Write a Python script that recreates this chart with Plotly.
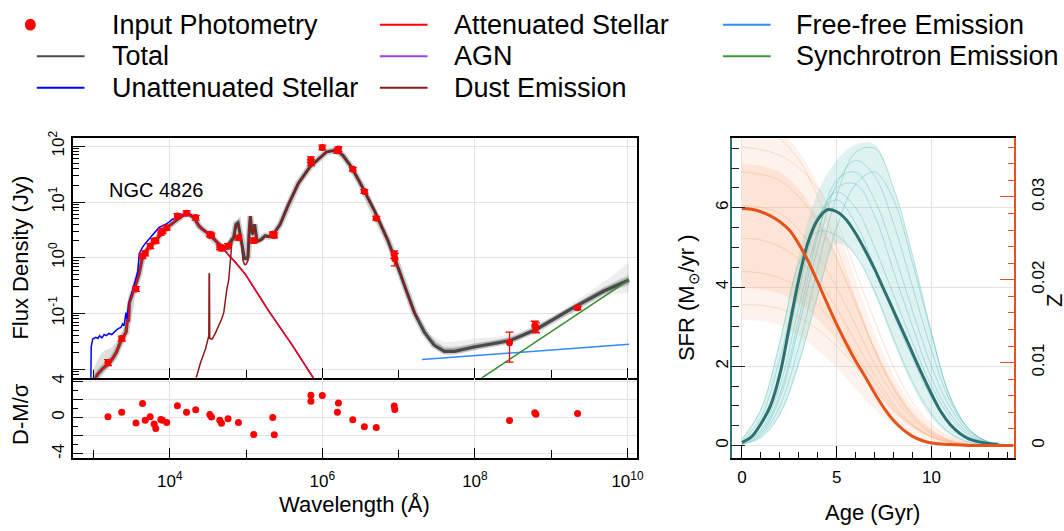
import numpy as np
import plotly.graph_objects as go

FONT = "Liberation Sans"
W, H = 1064, 531

# ---------------- SED model (log10 wavelength [A], log10 flux [Jy]) ----------------
total_lw = [3.00, 3.05, 3.12, 3.20, 3.25, 3.30, 3.36, 3.40, 3.427, 3.447, 3.46, 3.47, 3.50, 3.535,
            3.57, 3.60, 3.643, 3.708, 3.76, 3.817, 3.88, 3.948, 4.00, 4.078, 4.15, 4.23, 4.317,
            4.382, 4.425, 4.512, 4.60, 4.686, 4.75, 4.773, 4.80, 4.838, 4.868, 4.895, 4.92, 4.938,
            4.98, 5.00, 5.025, 5.04, 5.056, 5.07, 5.086, 5.112, 5.142, 5.17, 5.207, 5.25, 5.30,
            5.36, 5.447, 5.555, 5.686, 5.838, 5.97, 6.055, 6.13, 6.207, 6.27, 6.38, 6.51, 6.686,
            6.86, 6.95, 7.01, 7.077, 7.207, 7.338, 7.468, 7.598, 7.729, 7.99, 8.25, 8.467, 8.815,
            9.25, 9.684, 10.02]
total_lf = [-2.25, -2.10, -1.99, -1.90, -1.81, -1.70, -1.49, -1.40, -1.34, -1.10, -1.15, -0.81,
            -0.70, -0.575, -0.42, -0.28, 0.014, 0.16, 0.24, 0.307, 0.42, 0.513, 0.58, 0.67, 0.74,
            0.80, 0.72, 0.571, 0.513, 0.425, 0.307, 0.19, 0.17, 0.24, 0.30, 0.367, 0.60, 0.63,
            0.45, 0.337, -0.016, -0.02, 0.014, 0.45, 0.748, 0.55, 0.425, 0.60, 0.307, 0.31, 0.337,
            0.395, 0.38, 0.425, 0.60, 0.954, 1.337, 1.63, 1.80, 1.90, 1.92, 1.91, 1.836, 1.63,
            1.307, 0.836, 0.307, 0.0, -0.24, -0.50, -0.986, -1.339, -1.574, -1.68, -1.68, -1.603,
            -1.545, -1.485, -1.28, -0.928, -0.603, -0.40]

att_lw = [3.00, 3.05, 3.12, 3.20, 3.25, 3.30, 3.36, 3.40, 3.427, 3.447, 3.46, 3.47, 3.50, 3.535,
          3.57, 3.60, 3.643, 3.708, 3.76, 3.817, 3.88, 3.948, 4.00, 4.078, 4.15, 4.23, 4.317,
          4.382, 4.425, 4.512, 4.60, 4.686, 4.773, 4.85, 4.991, 5.295, 5.60, 5.90]
att_lf = [-2.25, -2.10, -1.99, -1.90, -1.81, -1.70, -1.49, -1.40, -1.34, -1.10, -1.15, -0.81,
          -0.70, -0.575, -0.42, -0.28, 0.014, 0.16, 0.24, 0.307, 0.42, 0.513, 0.58, 0.67, 0.74,
          0.80, 0.72, 0.571, 0.513, 0.425, 0.307, 0.19, 0.042, -0.07, -0.30, -0.956, -1.56, -2.20]

unatt_lw = [2.965, 2.97, 2.99, 3.03, 3.06, 3.08, 3.11, 3.14, 3.17, 3.20, 3.24, 3.27, 3.30, 3.33,
            3.36, 3.382, 3.40, 3.426, 3.44, 3.46, 3.492, 3.52, 3.557, 3.58, 3.60, 3.64, 3.687,
            3.73, 3.773, 3.82, 3.86, 3.90, 3.948, 4.00, 4.034, 4.09, 4.143, 4.19, 4.23, 4.317,
            4.382, 4.425, 4.512, 4.60, 4.686, 4.773, 4.85, 4.991, 5.295, 5.60, 5.90]
unatt_lf = [-2.30, -1.60, -1.46, -1.43, -1.45, -1.40, -1.44, -1.38, -1.40, -1.36, -1.38, -1.33,
            -1.30, -1.27, -1.25, -1.19, -1.22, -0.986, -1.10, -0.85, -0.69, -0.50, -0.34, -0.25,
            0.072, 0.18, 0.27, 0.34, 0.42, 0.48, 0.543, 0.57, 0.60, 0.65, 0.69, 0.72, 0.748, 0.79,
            0.81, 0.73, 0.58, 0.52, 0.43, 0.31, 0.195, 0.045, -0.065, -0.295, -0.95, -1.555, -2.195]

dust_lw = [4.317, 4.40, 4.469, 4.505, 4.512, 4.516, 4.52, 4.524, 4.555, 4.60, 4.643, 4.68, 4.708,
           4.73, 4.75, 4.773, 4.795, 4.816, 4.838, 4.868, 4.895, 4.92, 4.938, 4.96, 4.98, 5.00,
           5.025, 5.04, 5.056, 5.07, 5.086, 5.112, 5.142, 5.17, 5.207, 5.25, 5.30, 5.36, 5.447,
           5.555, 5.686, 5.838, 5.97, 6.055, 6.13, 6.207, 6.27, 6.38, 6.51, 6.686, 6.86, 6.95,
           7.01, 7.077, 7.207, 7.25]
dust_lf = [-2.30, -1.90, -1.633, -1.45, -1.40, -0.28, -0.30, -1.45, -1.46, -1.35, -1.22, -1.10,
           -0.986, -0.69, -0.55, -0.40, -0.10, 0.30, 0.33, 0.58, 0.62, 0.42, 0.30, -0.05, -0.12,
           -0.12, -0.05, 0.40, 0.74, 0.52, 0.40, 0.59, 0.28, 0.29, 0.32, 0.385, 0.37, 0.42, 0.60,
           0.954, 1.337, 1.63, 1.80, 1.90, 1.92, 1.91, 1.836, 1.63, 1.307, 0.836, 0.307, 0.0,
           -0.24, -0.50, -0.99, -1.11]

ff_lw = [7.307, 10.02]
ff_lf = [-1.827, -1.556]
sync_lw = [8.0, 10.02]
sync_lf = [-2.24, -0.40]

# model-sample spread (grey band), UV and radio parts
uvband_lw = [2.98, 3.00, 3.05, 3.10, 3.15, 3.20, 3.25, 3.30, 3.36, 3.42, 3.47, 3.52, 3.60]
uvband_lo = [-2.40, -2.35, -2.25, -2.15, -2.05, -1.98, -1.92, -1.82, -1.60, -1.45, -0.95, -0.70, -0.33]
uvband_hi = [-2.20, -2.00, -1.85, -1.72, -1.66, -1.64, -1.60, -1.52, -1.36, -1.22, -0.72, -0.52, -0.22]
rband_lw = [7.2, 7.4, 7.6, 7.8, 8.0, 8.3, 8.6, 9.0, 9.3, 9.6, 9.8, 10.02]
rband_out_hi = [-0.92, -1.38, -1.52, -1.50, -1.45, -1.42, -1.34, -1.07, -0.80, -0.52, -0.33, -0.08]
rband_out_lo = [-1.00, -1.52, -1.74, -1.72, -1.66, -1.58, -1.46, -1.18, -0.96, -0.76, -0.66, -0.62]
rband_in_hi = [-0.94, -1.42, -1.60, -1.59, -1.54, -1.48, -1.38, -1.10, -0.85, -0.60, -0.45, -0.30]
rband_in_lo = [-0.98, -1.49, -1.71, -1.70, -1.63, -1.56, -1.44, -1.16, -0.93, -0.71, -0.59, -0.50]

# ---------------- photometry ----------------
phot_lw = [3.19, 3.37, 3.557, 3.643, 3.678, 3.743, 3.795, 3.817, 3.883, 3.904, 3.96, 4.10, 4.22,
           4.34, 4.525, 4.547, 4.656, 4.678, 4.764, 4.90, 5.10, 5.35, 5.37, 5.85, 5.85, 6.0,
           6.211, 6.198, 6.399, 6.551, 6.707, 6.942, 6.95, 8.454, 8.785, 8.80, 9.346]
phot_lf = [-1.88, -1.45, -0.56, 0.03, 0.08, 0.21, 0.30, 0.31, 0.45, 0.48, 0.54, 0.75, 0.80,
           0.72, 0.42, 0.40, 0.19, 0.17, 0.21, 0.36, 0.31, 0.42, 0.40, 1.76, 1.71, 1.98,
           1.95, 1.92, 1.59, 1.19, 0.71, 0.06, -0.02, -1.527, -1.22, -1.25, -0.90]
phot_err_pct = [12, 10, 10, 10, 10, 10, 10, 10, 10, 10, 10, 10, 10,
                10, 10, 10, 10, 10, 10, 10, 10, 10, 10, 12, 12, 10,
                10, 10, 8, 8, 8, 15, 25, 55, 20, 20, 7]
resid = [0.1, 0.6, -0.6, 1.56, -0.3, 0.1, -0.7, -1.2, -0.2, -0.3, -0.55, 1.3, 0.6,
         0.87, 0.35, 0.07, -0.3, -0.63, -0.14, -0.55, -1.85, 0.0, -1.9, 2.47, 1.8, 2.43,
         1.6, 0.6, -0.24, -1.0, -1.08, 1.29, 0.9, -0.31, 0.52, 0.38, 0.45]

# ---------------- star-formation history ----------------
age_main = [0, 0.5, 1.0, 1.5, 2.0, 2.5, 3.0, 3.5, 4.0, 4.5, 5.0, 5.5, 6.0, 6.5, 7.0, 7.5, 8.0,
            8.5, 9.0, 9.5, 10.0, 10.5, 11.0, 11.5, 12.0, 12.5, 13.0, 13.5]
sfr_main = [0.08, 0.22, 0.55, 1.0, 1.8, 3.0, 4.2, 5.15, 5.7, 5.95, 5.9, 5.7, 5.35, 4.92, 4.45,
            3.92, 3.4, 2.87, 2.33, 1.8, 1.3, 0.85, 0.52, 0.3, 0.16, 0.09, 0.05, 0.03]
zage_main = [0, 0.5, 1.0, 1.5, 2.0, 2.5, 3.0, 3.5, 4.0, 4.5, 5.0, 5.5, 6.0, 6.5, 7.0, 7.5, 8.0,
             8.5, 9.0, 9.5, 10.0, 11.0, 12.0, 13.0, 14.33]
z_main = [0.0286, 0.0285, 0.0282, 0.0277, 0.0270, 0.0260, 0.0243, 0.0222, 0.0197, 0.0171,
          0.0146, 0.0123, 0.0102, 0.0083, 0.0063, 0.0045, 0.0030, 0.0019, 0.0011, 0.0006,
          0.0003, 0.0001, 0.0, 0.0, 0.0]

age_s = list(range(15))
sfr_hi = [0.18, 0.95, 2.7, 4.8, 6.4, 7.2, 7.6, 7.6, 6.5, 4.8, 2.85, 1.25, 0.4, 0.08, 0.01]
sfr_lo = [0.02, 0.2, 0.75, 2.0, 3.8, 5.1, 4.8, 3.8, 2.6, 1.5, 0.7, 0.25, 0.06, 0.01, 0.0]
sfr_samples = [
    [0.15, 0.9, 2.6, 4.6, 5.4, 5.3, 4.8, 3.9, 2.7, 1.6, 0.8, 0.3, 0.08, 0.02, 0.0],
    [0.08, 0.5, 1.8, 3.9, 5.7, 6.4, 6.0, 5.0, 3.8, 2.6, 1.5, 0.7, 0.25, 0.07, 0.02],
    [0.05, 0.35, 1.3, 3.2, 5.3, 6.7, 6.9, 6.2, 4.9, 3.4, 2.0, 0.95, 0.35, 0.1, 0.02],
    [0.03, 0.25, 1.0, 2.5, 4.5, 6.3, 7.4, 7.5, 6.5, 4.8, 2.85, 1.2, 0.4, 0.08, 0.01],
    [0.03, 0.2, 0.8, 2.1, 3.8, 5.5, 6.6, 6.9, 6.2, 4.6, 2.8, 1.2, 0.4, 0.08, 0.01],
    [0.1, 0.7, 2.2, 4.2, 5.8, 6.2, 5.6, 4.5, 3.3, 2.2, 1.2, 0.55, 0.2, 0.05, 0.01],
    [0.06, 0.4, 1.5, 3.5, 5.4, 6.5, 6.6, 5.8, 4.4, 3.0, 1.7, 0.8, 0.3, 0.07, 0.01],
    [0.04, 0.3, 1.2, 3.0, 5.0, 6.6, 7.2, 6.8, 5.6, 4.0, 2.4, 1.1, 0.4, 0.09, 0.01],
]
z_out_hi = [0.040, 0.0395, 0.038, 0.0355, 0.0315, 0.0265, 0.020, 0.0135, 0.0085, 0.0048, 0.0024, 0.001, 0.0003, 0.0001, 0.0]
z_out_lo = [0.0152, 0.0150, 0.0145, 0.0133, 0.0115, 0.0094, 0.0068, 0.0044, 0.0025, 0.0011, 0.0004, 0.0001, 0.0, 0.0, 0.0]
z_in_hi = [0.034, 0.0337, 0.033, 0.031, 0.0275, 0.023, 0.0175, 0.012, 0.0075, 0.0041, 0.002, 0.0008, 0.0002, 0.0, 0.0]
z_in_lo = [0.019, 0.0188, 0.0183, 0.0172, 0.0152, 0.0127, 0.0096, 0.0066, 0.0040, 0.0021, 0.0009, 0.0003, 0.0001, 0.0, 0.0]
z_samples = [
    [0.036, 0.0357, 0.035, 0.0335, 0.031, 0.027, 0.021, 0.015, 0.0095, 0.0052, 0.0025, 0.001, 0.0003, 0.0001, 0.0],
    [0.033, 0.0327, 0.032, 0.030, 0.027, 0.0225, 0.017, 0.0115, 0.007, 0.0037, 0.0017, 0.0006, 0.0002, 0.0, 0.0],
    [0.025, 0.0248, 0.024, 0.0225, 0.020, 0.0165, 0.0125, 0.0085, 0.005, 0.0026, 0.0011, 0.0004, 0.0001, 0.0, 0.0],
    [0.021, 0.0208, 0.0202, 0.019, 0.017, 0.0142, 0.011, 0.0076, 0.0046, 0.0024, 0.001, 0.0003, 0.0001, 0.0, 0.0],
    [0.017, 0.0169, 0.0165, 0.0155, 0.014, 0.012, 0.0095, 0.0068, 0.0043, 0.0024, 0.0011, 0.0004, 0.0001, 0.0, 0.0],
    [0.039, 0.0385, 0.037, 0.0345, 0.030, 0.024, 0.0175, 0.0115, 0.0068, 0.0035, 0.0015, 0.0005, 0.0001, 0.0, 0.0],
    [0.029, 0.0287, 0.028, 0.026, 0.023, 0.019, 0.0145, 0.0098, 0.006, 0.0032, 0.0014, 0.0005, 0.0001, 0.0, 0.0],
]

# legend entries: (label, kind, colour)
legend_col1 = [("Input Photometry", "dot", "#ff0000"), ("Total", "line", "#4a4a4a"),
               ("Unattenuated Stellar", "line", "#0000ff")]
legend_col2 = [("Attenuated Stellar", "line", "#ff0000"), ("AGN", "line", "#a040e8"),
               ("Dust Emission", "line", "#8b1a1a")]
legend_col3 = [("Free-free Emission", "line", "#2f8cff"), ("Synchrotron Emission", "line", "#3a9a3a")]

# ---------------- colours ----------------
C_TOTAL = "#4a4a4a"
C_UNATT = "#0000ff"
C_ATT = "#ff0000"
C_DUST = "#8b1a1a"
C_FF = "#2f8cff"
C_SYNC = "#2e8b2e"
C_TEAL = "#2c7070"
C_ORANGE = "#e5531a"
GRID = "#e3e3e3"


def p(v):
    return 10 ** np.asarray(v, dtype=float)


def px(v):
    return v / W


def py(v):
    return 1 - v / H


fig = go.Figure()


def band(lw, lo, hi, color):
    fig.add_trace(go.Scatter(x=p(lw), y=p(hi), mode="lines", line=dict(width=0, color=color),
                             showlegend=False, hoverinfo="skip", xaxis="x", yaxis="y"))
    fig.add_trace(go.Scatter(x=p(lw), y=p(lo), mode="lines", line=dict(width=0, color=color),
                             fill="tonexty", fillcolor=color, showlegend=False, hoverinfo="skip",
                             xaxis="x", yaxis="y"))


band(uvband_lw, uvband_lo, uvband_hi, "rgba(150,150,150,0.30)")
band(rband_lw, rband_out_lo, rband_out_hi, "rgba(170,170,170,0.20)")
band(rband_lw, rband_in_lo, rband_in_hi, "rgba(140,140,140,0.28)")

fig.add_trace(go.Scatter(x=p(total_lw), y=p(total_lf), mode="lines",
                         line=dict(color="rgba(110,110,110,0.32)", width=6.5),
                         showlegend=False, hoverinfo="skip", xaxis="x", yaxis="y"))
fig.add_trace(go.Scatter(x=p(total_lw), y=p(total_lf), mode="lines",
                         line=dict(color=C_TOTAL, width=3.2), showlegend=False, xaxis="x", yaxis="y"))
fig.add_trace(go.Scatter(x=p(unatt_lw), y=p(unatt_lf), mode="lines",
                         line=dict(color=C_UNATT, width=1.5), showlegend=False, xaxis="x", yaxis="y"))
fig.add_trace(go.Scatter(x=p(att_lw), y=p(att_lf), mode="lines",
                         line=dict(color=C_ATT, width=1.5), showlegend=False, xaxis="x", yaxis="y"))
fig.add_trace(go.Scatter(x=p(dust_lw), y=p(dust_lf), mode="lines",
                         line=dict(color=C_DUST, width=1.5), showlegend=False, xaxis="x", yaxis="y"))
fig.add_trace(go.Scatter(x=p(ff_lw), y=p(ff_lf), mode="lines",
                         line=dict(color=C_FF, width=1.5), showlegend=False, xaxis="x", yaxis="y"))
fig.add_trace(go.Scatter(x=p(sync_lw), y=p(sync_lf), mode="lines",
                         line=dict(color=C_SYNC, width=1.5), showlegend=False, xaxis="x", yaxis="y"))

pf = p(phot_lf)
perr = pf * np.asarray(phot_err_pct) / 100.0
fig.add_trace(go.Scatter(x=p(phot_lw), y=pf, mode="markers", marker=dict(color="#ff0000", size=7),
                         error_y=dict(type="data", array=perr, color="#ff0000", thickness=1.3, width=4),
                         showlegend=False, xaxis="x", yaxis="y"))
fig.add_trace(go.Scatter(x=p(phot_lw), y=resid, mode="markers", marker=dict(color="#ff0000", size=7),
                         showlegend=False, xaxis="x2", yaxis="y2"))

# ---- SFH panel ----
for hi, lo, col in [(z_out_hi, z_out_lo, "rgba(250,195,160,0.20)"),
                    (z_in_hi, z_in_lo, "rgba(248,178,135,0.22)")]:
    fig.add_trace(go.Scatter(x=age_s, y=hi, mode="lines", line=dict(width=0, shape="spline"),
                             showlegend=False, hoverinfo="skip", xaxis="x3", yaxis="y3"))
    fig.add_trace(go.Scatter(x=age_s, y=lo, mode="lines", line=dict(width=0, shape="spline"),
                             fill="tonexty", fillcolor=col, showlegend=False, hoverinfo="skip",
                             xaxis="x3", yaxis="y3"))
for s in z_samples:
    fig.add_trace(go.Scatter(x=age_s, y=s, mode="lines",
                             line=dict(color="rgba(245,165,120,0.35)", width=1, shape="spline"),
                             showlegend=False, hoverinfo="skip", xaxis="x3", yaxis="y3"))

fig.add_trace(go.Scatter(x=age_s, y=sfr_hi, mode="lines", line=dict(width=0, shape="spline"),
                         showlegend=False, hoverinfo="skip", xaxis="x3", yaxis="y4"))
fig.add_trace(go.Scatter(x=age_s, y=sfr_lo, mode="lines", line=dict(width=0, shape="spline"),
                         fill="tonexty", fillcolor="rgba(130,205,205,0.26)", showlegend=False,
                         hoverinfo="skip", xaxis="x3", yaxis="y4"))
for s in sfr_samples:
    fig.add_trace(go.Scatter(x=age_s, y=s, mode="lines",
                             line=dict(color="rgba(100,190,190,0.45)", width=1, shape="spline"),
                             showlegend=False, hoverinfo="skip", xaxis="x3", yaxis="y4"))
fig.add_trace(go.Scatter(x=age_main, y=sfr_main, mode="lines",
                         line=dict(color=C_TEAL, width=3, shape="spline"),
                         showlegend=False, xaxis="x3", yaxis="y4"))
fig.add_trace(go.Scatter(x=zage_main, y=z_main, mode="lines",
                         line=dict(color=C_ORANGE, width=3, shape="spline"),
                         showlegend=False, xaxis="x3", yaxis="y5"))

sed_dom_x = [px(73.3), px(641)]
xr = [2.73, 10.13]
dec_major = [1e4, 1e6, 1e8, 1e10]
dec_minor = [1e3, 1e5, 1e7, 1e9]
ymin_ticks = [m * 10.0 ** k for k in range(-3, 3) for m in range(2, 10)]

common = dict(showline=True, linecolor="black", linewidth=1.5,
              ticks="inside", tickcolor="black", gridcolor=GRID, gridwidth=1.3,
              zeroline=False, tickfont=dict(family=FONT, size=17, color="black"))

fig.update_layout(
    width=W, height=H, margin=dict(l=0, r=0, t=0, b=0),
    paper_bgcolor="white", plot_bgcolor="white", showlegend=False,
    font=dict(family=FONT, color="black"),
    xaxis=dict(domain=sed_dom_x, type="log", range=xr, anchor="y", showticklabels=False, mirror=True,
               tickmode="array", tickvals=dec_major, ticklen=10, tickwidth=1.3, showgrid=True,
               minor=dict(tickmode="array", tickvals=dec_minor, ticks="inside", ticklen=8,
                          tickcolor="black", showgrid=False), **common),
    yaxis=dict(domain=[py(376), py(132.7)], type="log", range=[-2.153, 2.141], anchor="x", mirror=True,
               tickmode="array", tickvals=[1e-2, 1e-1, 1, 10, 100],
               ticktext=["", "10<sup>-1</sup>", "10<sup>0</sup>", "10<sup>1</sup>", "10<sup>2</sup>"],
               tickangle=-90, ticklen=12, tickwidth=1.3, showgrid=True,
               minor=dict(tickmode="array", tickvals=ymin_ticks, ticks="inside", ticklen=6,
                          tickcolor="black", showgrid=False), **common),
    xaxis2=dict(domain=sed_dom_x, type="log", range=xr, anchor="y2", mirror=False,
                tickmode="array", tickvals=dec_major,
                ticktext=["10<sup>4</sup>", "10<sup>6</sup>", "10<sup>8</sup>", "10<sup>10</sup>"],
                ticklen=10, tickwidth=1.3, showgrid=True, ticklabelstandoff=7,
                minor=dict(tickmode="array", tickvals=dec_minor, ticks="inside", ticklen=8,
                           tickcolor="black", showgrid=False), **common),
    yaxis2=dict(domain=[py(457.3), py(376)], range=[-4.4, 4.4], anchor="x2", mirror=True,
                tickmode="array", tickvals=[-4, -2, 0, 2, 4], ticktext=["-4", "", "0", "", "4"],
                tickangle=-90, ticklen=10, tickwidth=1.3, showgrid=True,
                minor=dict(dtick=1, ticks="inside", ticklen=5, tickcolor="black", showgrid=False),
                **common),
    xaxis3=dict(domain=[px(735.7), px(1019.3)], range=[-0.55, 14.33], anchor="y3", mirror=True,
                tickmode="array", tickvals=[0, 5, 10], ticklen=12, tickwidth=1.3, showgrid=True,
                ticklabelstandoff=3,
                minor=dict(dtick=1, tick0=0, ticks="inside", ticklen=6, tickcolor="black", showgrid=False),
                **common),
    yaxis3=dict(domain=[py(457.3), py(132.7)], range=[-0.00146, 0.03705], anchor="x3", side="right",
                showline=True, linecolor=C_ORANGE, linewidth=1.5, ticks="inside", tickcolor=C_ORANGE,
                tickvals=[0, 0.01, 0.02, 0.03], ticktext=["0", "0.01", "0.02", "0.03"],
                tickangle=-90, ticklen=14, tickwidth=1.3, showgrid=False, zeroline=False,
                ticklabelstandoff=8,
                minor=dict(dtick=0.002, tick0=0, ticks="inside", ticklen=6, tickcolor=C_ORANGE, showgrid=False),
                tickfont=dict(family=FONT, size=17, color="black")),
    yaxis4=dict(overlaying="y3", range=[-0.305, 7.75], anchor="x3", side="left",
                showline=True, linecolor=C_TEAL, linewidth=1.5, ticks="inside", tickcolor="#222222",
                tickvals=[0, 2, 4, 6], tickangle=-90, ticklen=14, tickwidth=1.3,
                showgrid=True, gridcolor=GRID, gridwidth=1.3, zeroline=False, ticklabelstandoff=-5,
                minor=dict(dtick=0.5, tick0=0, ticks="inside", ticklen=8, tickcolor="#222222", showgrid=False),
                tickfont=dict(family=FONT, size=17, color="black")),
    yaxis5=dict(overlaying="y3", range=[-0.00146, 0.03705], anchor="x3", visible=False),
)

# ---- legend (three columns, drawn in the page margin) ----
rows_y = [17, 49, 81]
cols = [(legend_col1, 37, 85, 111), (legend_col2, 382, 430, 455), (legend_col3, 727, 775, 798)]
for entries, lx0, lx1, tx in cols:
    for (label, kind, col), ry in zip(entries, rows_y):
        if kind == "dot":
            fig.add_shape(type="circle", xref="paper", yref="paper",
                          x0=px(25), x1=px(36), y0=py(ry + 6), y1=py(ry - 6),
                          fillcolor=col, line=dict(color=col, width=0))
        else:
            fig.add_shape(type="line", xref="paper", yref="paper",
                          x0=px(lx0), x1=px(lx1), y0=py(ry), y1=py(ry),
                          line=dict(color=col, width=2))
        fig.add_annotation(text=label, x=px(tx), y=py(ry), xref="paper", yref="paper",
                           showarrow=False, xanchor="left", yanchor="middle",
                           font=dict(family=FONT, size=27, color="black"))

ann = [
    ("Flux Density (Jy)", 21, 254, -90),
    ("D-M/σ", 20, 413, -90),
    ("Wavelength (Å)", 357, 505, 0),
    ("SFR (M<sub>⊙</sub>/yr )", 692, 295, -90),
    ("Age (Gyr)", 877, 513, 0),
    ("Z", 1061, 298, -90),
]
for text, ax, ay, ang in ann:
    fig.add_annotation(text=text, x=px(ax), y=py(ay), xref="paper", yref="paper",
                       textangle=ang, showarrow=False, xanchor="center", yanchor="middle",
                       font=dict(family=FONT, size=22, color="black"))
fig.add_annotation(text="NGC 4826", x=px(108), y=py(185), xref="paper", yref="paper",
                   showarrow=False, xanchor="left", yanchor="middle",
                   font=dict(family=FONT, size=20, color="black"))

fig.write_html("out.html")
